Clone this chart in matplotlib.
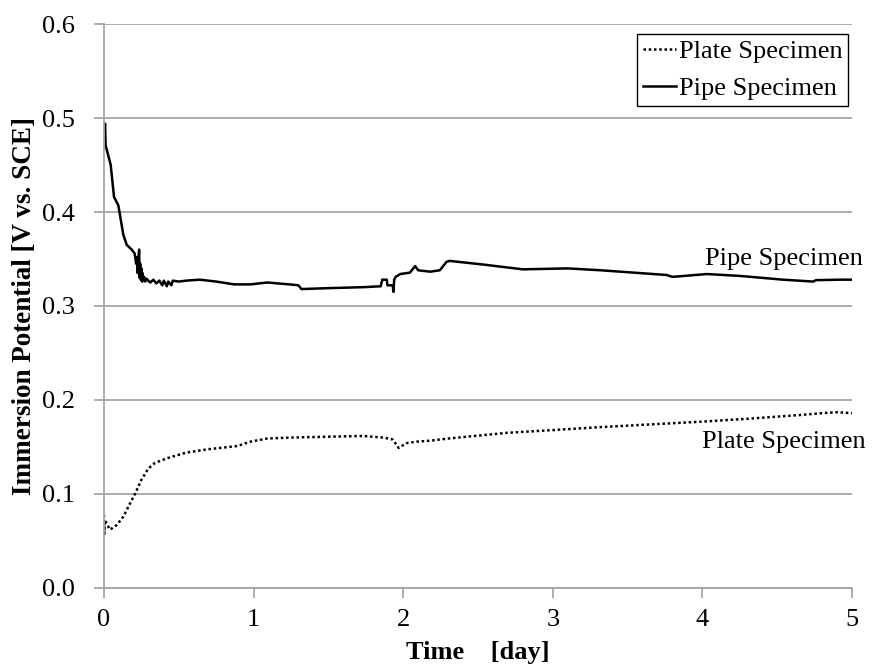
import numpy as np
import matplotlib
matplotlib.use("Agg")
import matplotlib.pyplot as plt

# time in days, potential in V vs. SCE
pipe_day = [0.0, 0.007, 0.011, 0.045, 0.067, 0.096, 0.129, 0.152, 0.185, 0.205,
            0.215, 0.220, 0.225, 0.230, 0.235, 0.238, 0.242, 0.246, 0.250, 0.254,
            0.258, 0.262, 0.268, 0.275, 0.285, 0.296, 0.31, 0.33, 0.35, 0.37,
            0.39, 0.40, 0.42, 0.43, 0.45, 0.46, 0.50, 0.55, 0.64, 0.75,
            0.87, 0.98, 1.09, 1.24, 1.30, 1.32, 1.50, 1.73, 1.85, 1.86,
            1.89, 1.895, 1.93, 1.935, 1.94, 1.95, 1.98, 2.045, 2.08, 2.10,
            2.18, 2.245, 2.29, 2.31, 2.54, 2.80, 3.10, 3.32, 3.76, 3.80,
            4.03, 4.25, 4.54, 4.74, 4.76, 4.92, 5.00]
pipe_v = [0.480, 0.494, 0.471, 0.450, 0.416, 0.407, 0.376, 0.365, 0.360, 0.356,
          0.345, 0.352, 0.335, 0.350, 0.360, 0.330, 0.345, 0.328, 0.340, 0.326,
          0.335, 0.327, 0.331, 0.326, 0.329, 0.327, 0.325, 0.328, 0.324, 0.327,
          0.322, 0.327, 0.321, 0.326, 0.322, 0.327, 0.326, 0.327, 0.328, 0.326,
          0.323, 0.323, 0.325, 0.323, 0.322, 0.318, 0.319, 0.320, 0.321, 0.328,
          0.328, 0.322, 0.322, 0.315, 0.328, 0.331, 0.334, 0.3355, 0.3425, 0.338,
          0.3365, 0.338, 0.347, 0.348, 0.344, 0.339, 0.340, 0.338, 0.333, 0.331,
          0.334, 0.332, 0.328, 0.326, 0.3275, 0.328, 0.328]

plate_day = [0.0, 0.002, 0.006, 0.04, 0.085, 0.13, 0.174, 0.207, 0.25, 0.296,
             0.34, 0.42, 0.55, 0.69, 0.89, 0.98, 1.09, 1.24, 1.51, 1.73,
             1.87, 1.93, 1.97, 2.02, 2.09, 2.18, 2.30, 2.69, 3.00, 3.30,
             3.65, 4.00, 4.30, 4.65, 4.80, 4.90, 5.00]
plate_v = [0.078, 0.056, 0.072, 0.062, 0.067, 0.076, 0.090, 0.100, 0.115, 0.127,
           0.133, 0.138, 0.144, 0.1475, 0.151, 0.1557, 0.159, 0.160, 0.161, 0.1617,
           0.160, 0.158, 0.149, 0.154, 0.1557, 0.1567, 0.159, 0.165, 0.168, 0.171,
           0.174, 0.177, 0.180, 0.184, 0.186, 0.187, 0.186]

x_ticks = [0, 1, 2, 3, 4, 5]
y_ticks = [0.0, 0.1, 0.2, 0.3, 0.4, 0.5, 0.6]

plt.rcParams['font.family'] = ['Liberation Serif', 'DejaVu Serif']
fs = 19
grid_col = '#a6a6a6'

fig = plt.figure(figsize=(8.76, 6.65), dpi=100)
ax = fig.add_axes([0.1187, 0.1158, 0.8539, 0.8481])

ax.plot(plate_day, plate_v, color='black', lw=1.8, linestyle=(0, (1, 1.1)),
        label='Plate Specimen')
ax.plot(pipe_day, pipe_v, color='black', lw=1.8, label='Pipe Specimen')

ax.set_xlim(0, 5)
ax.set_ylim(0, 0.6)
ax.set_xticks(x_ticks)
ax.set_yticks(y_ticks)
ax.set_yticklabels([f"{v:.1f}" for v in y_ticks])
ax.yaxis.grid(True, color=grid_col, lw=1.3)
ax.set_axisbelow(True)

for s in ['top', 'right']:
    ax.spines[s].set_visible(False)
for s in ['left', 'bottom']:
    ax.spines[s].set_color(grid_col)
    ax.spines[s].set_linewidth(1.3)

ax.tick_params(axis='both', colors=grid_col, labelcolor='black', labelsize=fs,
               length=7, width=1.3, direction='out')
ax.tick_params(axis='x', pad=8)
ax.tick_params(axis='y', pad=14)

ax.set_xlabel('Time    [day]', fontsize=fs, fontweight='bold', labelpad=7)
ax.set_ylabel('Immersion Potential [V vs. SCE]', fontsize=19.5,
              fontweight='bold', labelpad=3.5)

ax.text(5.07, 0.344, 'Pipe Specimen', fontsize=fs, ha='right', va='baseline',
        clip_on=False)
ax.text(5.09, 0.149, 'Plate Specimen', fontsize=fs, ha='right', va='baseline',
        clip_on=False)

leg = ax.legend(loc='upper right', bbox_to_anchor=(0.995, 0.982),
                borderaxespad=0, fontsize=fs, fancybox=False, edgecolor='black',
                framealpha=1, borderpad=0.22, labelspacing=0.49,
                handlelength=1.25, handletextpad=0.1)
leg.get_frame().set_linewidth(1.0)

fig.savefig('out.png', dpi=100)
